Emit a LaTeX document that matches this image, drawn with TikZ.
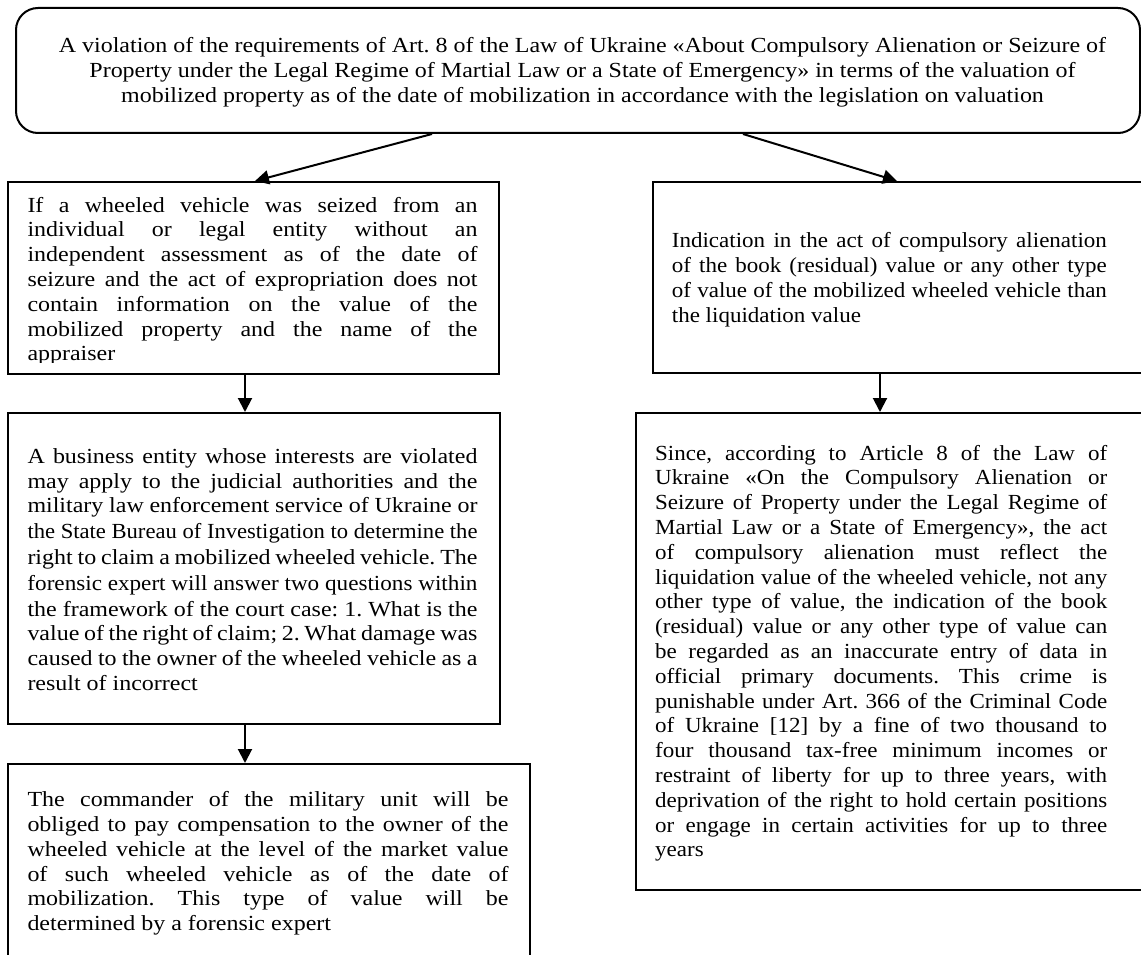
\documentclass[tikz,border=0pt]{standalone}
\usepackage{graphicx}
\usepackage{fontspec}
\setmainfont[FakeStretch=1.115,Ligatures=NoCommon]{Liberation Serif}
\newfontfamily\rightfont[FakeStretch=1.07,Ligatures=NoCommon]{Liberation Serif}
\usetikzlibrary{arrows.meta}
\frenchspacing
\newsavebox\lnbox
\newcommand\spc{\spaceskip=0pt\xspaceskip=0pt\frenchspacing}
\newcommand\JL[1]{%
  \setbox\lnbox\hbox to\hsize{\spc\strut#1}%
  \ifnum\badness>10000
    \hbox to\hsize{\resizebox{\hsize}{\height}{\hbox{\spc\strut#1}}}%
  \else
    \box\lnbox
  \fi}
\newcommand\LL[1]{\hbox to \hsize{\spc\strut#1\hfil}}
\newcommand\CL[1]{\hbox to \hsize{\spc\hfil\strut#1\hfil}}
\tikzset{
  box/.style={draw, line width=2pt, inner sep=0pt, anchor=north west},
  txt/.style={inner sep=0pt, anchor=base west, font=\fontsize{21.5}{24.8}\selectfont},
  rtxt/.style={txt, font=\rightfont\fontsize{21.5}{24.8}\selectfont},
  arr/.style={line width=2pt, -{Triangle[length=14pt,width=14pt]}},
}
\begin{document}
\begin{tikzpicture}[x=1pt,y=-1pt]
\useasboundingbox[fill=white] (0,0) rectangle (1141,955);

% boxes
\node[box, rounded corners=22pt, minimum width=1124pt, minimum height=125pt] (top) at (15,7) {};
\node[box, minimum width=491pt, minimum height=192pt] (L1) at (7,181) {};
\node[box, minimum width=492pt, minimum height=311pt] (L2) at (7,412) {};
\node[box, minimum width=522pt, minimum height=260pt] (L3) at (7,763) {};
\node[box, minimum width=560pt, minimum height=191pt] (R1) at (652,181) {};
\node[box, minimum width=580pt, minimum height=477pt] (R2) at (635,412) {};

% texts
\node[txt, anchor=base, text width=1120pt] (ttop) at (582.5,52.7) {\vtop{%
\CL{A violation of the requirements of Art. 8 of the Law of Ukraine «About Compulsory Alienation or Seizure of}
\CL{Property under the Legal Regime of Martial Law or a State of Emergency» in terms of the valuation of}
\CL{mobilized property as of the date of mobilization in accordance with the legislation on valuation}}};

\begin{scope}
\clip (7,181) rectangle (498,362);
\node[txt, text width=450pt] (tL1) at (27.3,212) {\vtop{%
\JL{If a wheeled vehicle was seized from an}
\JL{individual or legal entity without an}
\JL{independent assessment as of the date of}
\JL{seizure and the act of expropriation does not}
\JL{contain information on the value of the}
\JL{mobilized property and the name of the}
\LL{appraiser}}};
\end{scope}

\node[txt, text width=450pt] (tL2) at (27.3,463.3) {\vtop{%
\JL{A business entity whose interests are violated}
\JL{may apply to the judicial authorities and the}
\JL{military law enforcement service of Ukraine or}
\JL{the State Bureau of Investigation to determine the}
\JL{right to claim a mobilized wheeled vehicle. The}
\JL{forensic expert will answer two questions within}
\JL{the framework of the court case: 1. What is the}
\JL{value of the right of claim; 2. What damage was}
\JL{caused to the owner of the wheeled vehicle as a}
\LL{result of incorrect}}};

\node[txt, text width=481pt] (tL3) at (27.3,806.7) {\vtop{%
\JL{The commander of the military unit will be}
\JL{obliged to pay compensation to the owner of the}
\JL{wheeled vehicle at the level of the market value}
\JL{of such wheeled vehicle as of the date of}
\JL{mobilization. This type of value will be}
\LL{determined by a forensic expert}}};

\node[rtxt, text width=435pt] (tR1) at (671.7,247.7) {\vtop{%
\JL{Indication in the act of compulsory alienation}
\JL{of the book (residual) value or any other type}
\JL{of value of the mobilized wheeled vehicle than}
\LL{the liquidation value}}};

\node[rtxt, text width=452pt] (tR2) at (655,460) {\vtop{%
\JL{Since, according to Article 8 of the Law of}
\JL{Ukraine «On the Compulsory Alienation or}
\JL{Seizure of Property under the Legal Regime of}
\JL{Martial Law or a State of Emergency», the act}
\JL{of compulsory alienation must reflect the}
\JL{liquidation value of the wheeled vehicle, not any}
\JL{other type of value, the indication of the book}
\JL{(residual) value or any other type of value can}
\JL{be regarded as an inaccurate entry of data in}
\JL{official primary documents. This crime is}
\JL{punishable under Art. 366 of the Criminal Code}
\JL{of Ukraine [12] by a fine of two thousand to}
\JL{four thousand tax-free minimum incomes or}
\JL{restraint of liberty for up to three years, with}
\JL{deprivation of the right to hold certain positions}
\JL{or engage in certain activities for up to three}
\LL{years}}};

% connectors
\coordinate (s1) at (432,0);
\coordinate (e1) at (255,0);
\coordinate (s2) at (743,0);
\coordinate (e2) at (897,0);
\coordinate (cl) at (245,0);
\coordinate (cr) at (880,0);
\draw[arr] (top.south -| s1) -- (L1.north -| e1);
\draw[arr] (top.south -| s2) -- (R1.north -| e2);
\draw[arr] (L1.south -| cl) -- (L2.north -| cl);
\draw[arr] (L2.south -| cl) -- (L3.north -| cl);
\draw[arr] (R1.south -| cr) -- (R2.north -| cr);
\end{tikzpicture}
\end{document}
